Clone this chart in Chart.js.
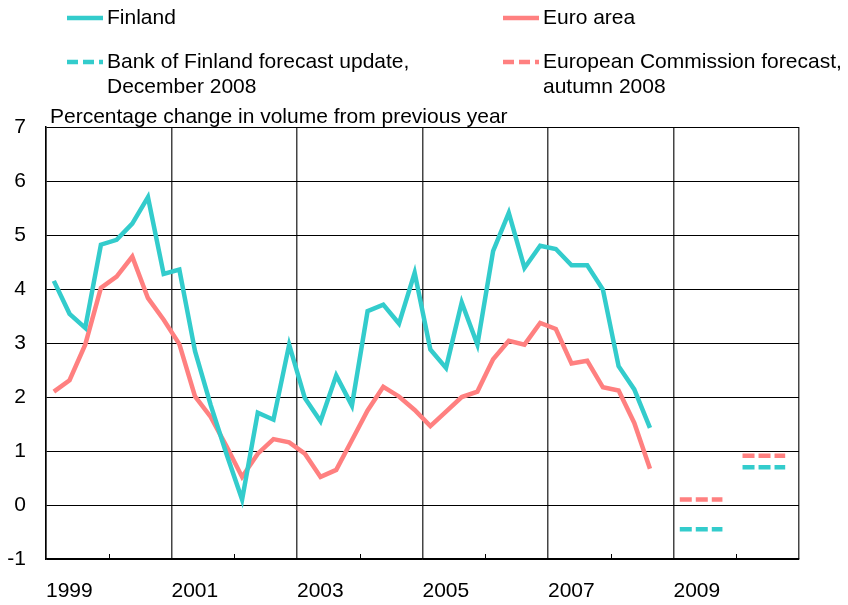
<!DOCTYPE html>
<html lang="en">
<head>
    <meta charset="UTF-8">
    <title>GDP growth: Finland and euro area</title>
    <script src="https://cdn.jsdelivr.net/npm/chart.js"></script>
    <style>
        body { margin: 0; background: #fff; }
        #wrap { width: 848px; height: 605px; }
    </style>
</head>
<body>
<div id="wrap">
    <canvas id="graficoPib" width="848" height="605"></canvas>
</div>
<script>
    // quarterly data, first quarter of 1999 onwards
    const startYear = 1999;
    const finlandGrowth = [
        4.15, 3.54, 3.28, 4.82,
        4.91, 5.21, 5.70, 4.28,
        4.36, 2.85, 1.85, 0.95,
        0.10, 1.71, 1.58, 2.97,
        1.98, 1.55, 2.40, 1.84,
        3.59, 3.71, 3.36, 4.30,
        2.88, 2.54, 3.75, 2.97,
        4.70, 5.41, 4.39, 4.80,
        4.74, 4.44, 4.44, 3.99,
        2.57, 2.14, 1.43
    ];
    const euroGrowth = [
        2.10, 2.31, 2.97, 4.02,
        4.23, 4.60, 3.83, 3.43,
        2.98, 2.01, 1.63, 1.09,
        0.52, 0.95, 1.22, 1.16,
        0.95, 0.52, 0.65, 1.20,
        1.75, 2.19, 2.01, 1.76,
        1.46, 1.73, 2.00, 2.10,
        2.70, 3.04, 2.97, 3.37,
        3.26, 2.62, 2.67, 2.18,
        2.12, 1.52, 0.67
    ];
    // annual forecasts
    const forecastYears = [2009, 2010];
    const finlandForecast = [-0.45, 0.70];
    const euroForecast = [0.10, 0.91];

    const yTicks = [-1, 0, 1, 2, 3, 4, 5, 6, 7];
    const xLabelYears = [1999, 2001, 2003, 2005, 2007, 2009];

    const CIANO = '#33cccc';
    const SALMAO = '#ff8080';

    function trimestral(valores) {
        return valores.map((v, i) => ({ x: startYear + Math.floor(i / 4) + ((i % 4) + 0.5) / 4, y: v }));
    }

    function previsao(valores) {
        let pts = [];
        forecastYears.forEach((ano, i) => {
            pts.push({ x: ano + 0.1, y: valores[i] });
            pts.push({ x: ano + 0.78, y: valores[i] });
            pts.push({ x: ano + 0.9, y: null });
        });
        return pts;
    }

    // legenda e título do eixo desenhados no canvas
    const extras = {
        id: 'extras',
        afterDraw(chart) {
            const ctx = chart.ctx;
            const area = chart.chartArea;
            const xs = chart.scales.x;
            ctx.save();

            // pequenos traços nos anos pares
            ctx.strokeStyle = '#000';
            ctx.lineWidth = 1;
            for (let ano = startYear + 1; ano < xs.max; ano += 2) {
                const px = Math.round(xs.getPixelForValue(ano)) + 0.5;
                ctx.beginPath();
                ctx.moveTo(px, area.bottom);
                ctx.lineTo(px, area.bottom - 5);
                ctx.stroke();
            }

            ctx.font = '21px "Liberation Sans", Arial, sans-serif';
            ctx.fillStyle = '#000';
            ctx.textBaseline = 'middle';
            ctx.textAlign = 'left';
            ctx.fillText('Percentage change in volume from previous year', 50, 117);

            const slots = [
                { x: 67, y: 18 },
                { x: 503, y: 18 },
                { x: 67, y: 62 },
                { x: 503, y: 62 }
            ];
            chart.data.datasets.forEach((ds, i) => {
                const s = slots[i];
                ctx.strokeStyle = ds.borderColor;
                ctx.lineWidth = 4.5;
                ctx.lineCap = 'butt';
                ctx.setLineDash(ds.borderDash ? [11, 5] : []);
                ctx.beginPath();
                ctx.moveTo(s.x, s.y);
                ctx.lineTo(s.x + 36, s.y);
                ctx.stroke();
                ctx.setLineDash([]);
                ds.label.split('\n').forEach((linha, k) => {
                    ctx.fillText(linha, s.x + 40, s.y + k * 25.5);
                });
            });
            ctx.restore();
        }
    };

    new Chart(document.getElementById('graficoPib'), {
        type: 'line',
        data: {
            datasets: [
                {
                    label: 'Finland',
                    data: trimestral(finlandGrowth),
                    borderColor: CIANO,
                    borderWidth: 4.5,
                    pointRadius: 0,
                    tension: 0
                },
                {
                    label: 'Euro area',
                    data: trimestral(euroGrowth),
                    borderColor: SALMAO,
                    borderWidth: 4.5,
                    pointRadius: 0,
                    tension: 0
                },
                {
                    label: 'Bank of Finland forecast update,\nDecember 2008',
                    data: previsao(finlandForecast),
                    borderColor: CIANO,
                    borderWidth: 4.5,
                    borderDash: [12, 4],
                    pointRadius: 0,
                    spanGaps: false
                },
                {
                    label: 'European Commission forecast,\nautumn 2008',
                    data: previsao(euroForecast),
                    borderColor: SALMAO,
                    borderWidth: 4.5,
                    borderDash: [12, 4],
                    pointRadius: 0,
                    spanGaps: false
                }
            ]
        },
        options: {
            responsive: false,
            animation: false,
            layout: { padding: { top: 127, right: 49, left: 0, bottom: 0 } },
            font: { family: '"Liberation Sans", Arial, sans-serif' },
            plugins: {
                legend: { display: false },
                tooltip: { enabled: false }
            },
            scales: {
                x: {
                    type: 'linear',
                    min: 1999,
                    max: 2011,
                    afterFit: s => { s.height = 46; },
                    afterBuildTicks: s => {
                        s.ticks = [];
                        for (let a = 1999; a <= 2011; a += 2) s.ticks.push({ value: a });
                    },
                    ticks: {
                        align: 'start',
                        padding: 20,
                        autoSkip: false,
                        maxRotation: 0,
                        color: '#000',
                        font: { size: 21, family: '"Liberation Sans", Arial, sans-serif' },
                        callback: v => xLabelYears.includes(v) ? String(v) : ''
                    },
                    grid: { color: '#444', lineWidth: 1.5, drawTicks: false },
                    border: { color: '#000', width: 1.5 }
                },
                y: {
                    min: -1,
                    max: 7,
                    afterFit: s => { s.width = 46; },
                    afterBuildTicks: s => { s.ticks = yTicks.map(v => ({ value: v })); },
                    ticks: {
                        padding: 20,
                        color: '#000',
                        font: { size: 21, family: '"Liberation Sans", Arial, sans-serif' }
                    },
                    grid: { color: '#000', lineWidth: 1, drawTicks: false },
                    border: { color: '#000', width: 1.5 }
                }
            }
        },
        plugins: [extras]
    });
</script>
</body>
</html>
